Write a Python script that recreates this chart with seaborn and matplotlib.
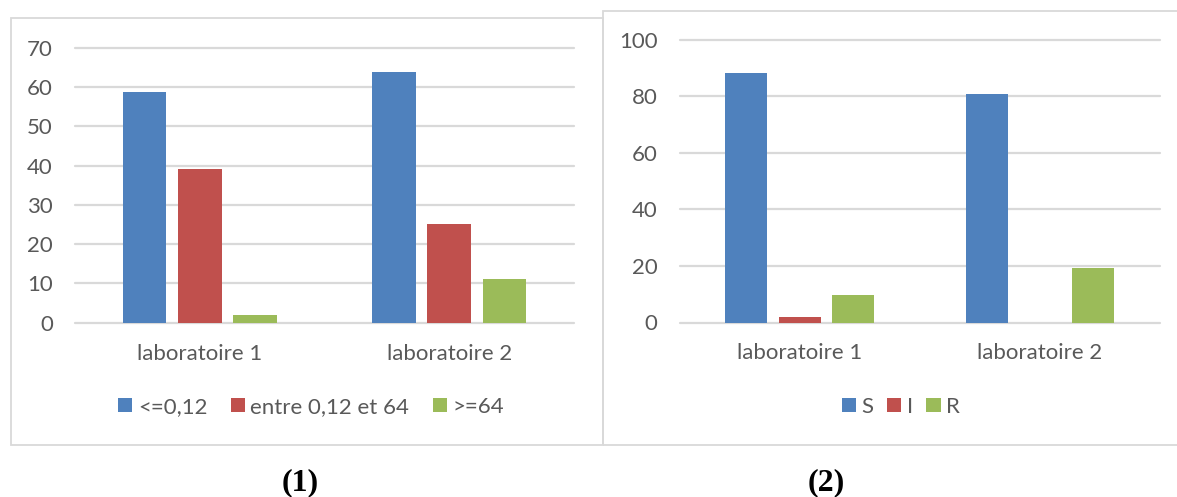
import matplotlib
matplotlib.use("Agg")
import matplotlib.pyplot as plt
import seaborn as sns
import pandas as pd
from matplotlib.patches import Rectangle, Patch

# ---------------- data ----------------
categories = ["laboratoire 1", "laboratoire 2"]

cmi_labels = ["<=0,12", "entre 0,12 et 64", ">=64"]
cmi_le_012 = [58.8, 63.9]
cmi_between = [39.2, 25.0]
cmi_ge_64 = [2.0, 11.1]

sir_labels = ["S", "I", "R"]
sir_S = [88.2, 80.6]
sir_I = [2.0, 0.0]
sir_R = [9.8, 19.4]

colors = ["#4F81BD", "#C0504D", "#9BBB59"]


def long_df(series_labels, series_values):
    rows = []
    for lab, vals in zip(series_labels, series_values):
        for cat, v in zip(categories, vals):
            rows.append({"lab": cat, "series": lab, "value": v})
    return pd.DataFrame(rows)


df1 = long_df(cmi_labels, [cmi_le_012, cmi_between, cmi_ge_64])
df2 = long_df(sir_labels, [sir_S, sir_I, sir_R])

# ---------------- figure ----------------
sns.set_theme(style="white")
plt.rcParams["font.family"] = ["Lato", "DejaVu Sans"]

W, H = 1177, 497
fig = plt.figure(figsize=(W / 100, H / 100), dpi=100)
fig.patch.set_facecolor("white")


def fx(px):
    return px / W


def fy(py):
    return 1 - py / H


def add_axes(l, r, t, b):
    return fig.add_axes([fx(l), fy(b), (r - l) / W, (b - t) / H])


# chart-area frames
fig.add_artist(Rectangle((fx(10.7), fy(445)), (603 - 10.7) / W, (445 - 18) / H,
                         transform=fig.transFigure, fill=False,
                         ec="#D9D9D9", lw=1.3, zorder=0))
fig.add_artist(Rectangle((fx(603.3), fy(445)), (1210 - 603.3) / W, (445 - 10.7) / H,
                         transform=fig.transFigure, fill=False,
                         ec="#D9D9D9", lw=1.3, zorder=0))

TXT = "#595959"
FS = 16


def draw(ax, df, labels, ymax, step):
    sns.barplot(data=df, x="lab", y="value", hue="series", hue_order=labels,
                order=categories, palette=colors, saturation=1,
                width=0.665, gap=0.21, linewidth=0, errorbar=None,
                legend=False, ax=ax)
    ax.set_xlim(-0.5, 1.5)
    ax.set_ylim(0, ymax)
    ax.set_yticks(range(0, ymax + 1, step))
    for s in ax.spines.values():
        s.set_visible(False)
    ax.set_facecolor("none")
    ax.yaxis.grid(True, color="#D9D9D9", lw=1.6)
    ax.xaxis.grid(False)
    ax.set_axisbelow(True)
    for gl in ax.get_ygridlines():
        gl.set_clip_on(False)
    ax.tick_params(axis="both", length=0, labelsize=FS, colors=TXT)
    ax.tick_params(axis="x", pad=15)
    ax.tick_params(axis="y", pad=16)
    ax.set_xlabel("")
    ax.set_ylabel("")


ax1 = add_axes(75, 574, 47.7, 322.7)
draw(ax1, df1, cmi_labels, 70, 10)

ax2 = add_axes(679.6, 1160, 39.5, 322.5)
draw(ax2, df2, sir_labels, 100, 20)


def legend(labels, cx, cy, colspace):
    handles = [Patch(facecolor=c, edgecolor="none") for c in colors]
    fig.legend(handles, labels, loc="center", bbox_to_anchor=(fx(cx), fy(cy)),
               ncol=3, frameon=False, fontsize=FS, labelcolor=TXT,
               handlelength=0.64, handleheight=0.64, handletextpad=0.25,
               columnspacing=colspace, borderaxespad=0, borderpad=0)


legend(cmi_labels, 311, 406.7, 1.05)
legend(sir_labels, 901, 406.7, 0.6)

fig.text(fx(300), fy(483), "(1)", ha="center", va="center",
         family=["Liberation Serif", "DejaVu Serif"], weight="bold",
         fontsize=23, color="black")
fig.text(fx(826), fy(483), "(2)", ha="center", va="center",
         family=["Liberation Serif", "DejaVu Serif"], weight="bold",
         fontsize=23, color="black")

fig.savefig("out.png", dpi=100, facecolor="white")
